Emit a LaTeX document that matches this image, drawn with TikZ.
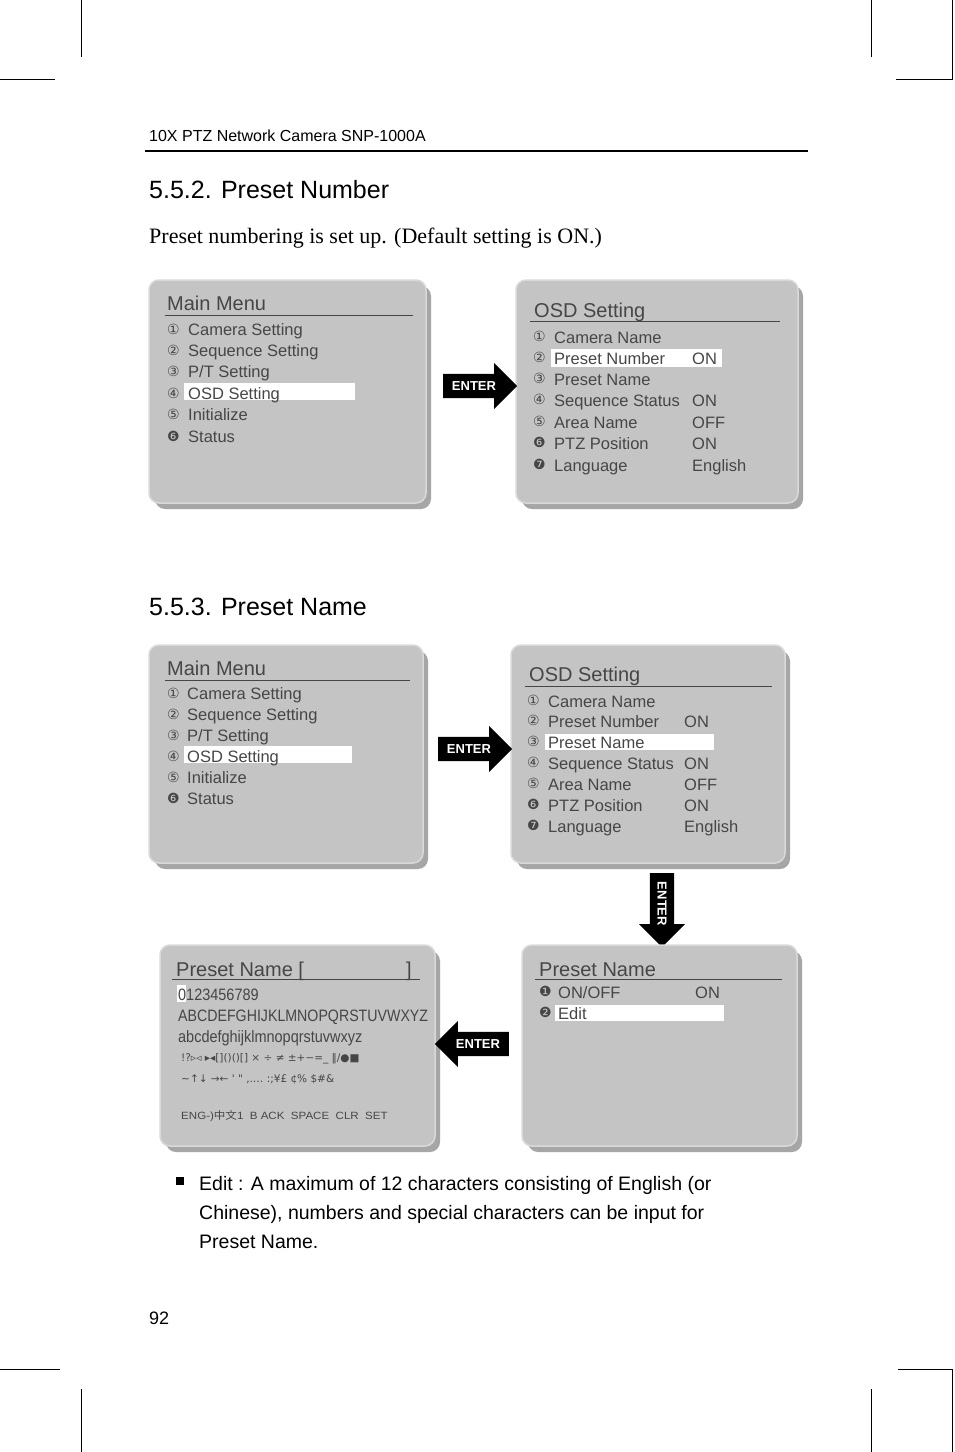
\documentclass[tikz,border=0pt]{standalone}
\usepackage{fontspec}
\setmainfont{Liberation Serif}
\setsansfont{Liberation Sans}
\newfontfamily\djv{DejaVu Sans}
\newfontfamily\cjk{Noto Sans CJK SC}
\usetikzlibrary{positioning,shapes.arrows}
\definecolor{panelgray}{RGB}{196,196,196}
\definecolor{menutext}{RGB}{70,70,70}
\tikzset{
  panel/.style={fill=panelgray, draw=white!85!black, line width=1.5pt, rounded corners=10pt},
  shadow/.style={fill=black!35, rounded corners=10pt},
  mtitle/.style={anchor=base west, inner sep=0pt, text=menutext, font=\sffamily\fontsize{20}{22}\selectfont},
  mitem/.style={anchor=base west, inner sep=0pt, text=menutext, font=\sffamily\fontsize{16.5}{18}\selectfont},
  mnum/.style={anchor=base west, inner sep=0pt, text=menutext, font=\djv\fontsize{14}{15}\selectfont},
  chars/.style={anchor=base west, inner sep=0pt, text=menutext, font=\sffamily\fontsize{16.5}{18}\selectfont, xscale=0.86},
  hibar/.style={fill=white, draw=none},
  enterarrow/.style={single arrow, fill=black, text=white, inner sep=2pt,
    single arrow head extend=6pt, minimum height=74pt, minimum width=46pt,
    font=\sffamily\bfseries\fontsize{13}{14}\selectfont},
  cropmark/.style={line width=0.8pt, black},
}
\begin{document}
\begin{tikzpicture}[x=1pt,y=-1pt]
\useasboundingbox[fill=white] (0,0) rectangle (954,1452);

% crop marks
\draw[cropmark] (81,0) -- (81,57);
\draw[cropmark] (0,79) -- (55,79);
\draw[cropmark] (871,0) -- (871,57);
\draw[cropmark] (896,79) -- (952,79) -- (952,0);
\draw[cropmark] (0,1369) -- (60,1369);
\draw[cropmark] (81,1389) -- (81,1452);
\draw[cropmark] (898,1369) -- (952,1369) -- (952,1452);
\draw[cropmark] (871,1389) -- (871,1452);

% header
\node[anchor=base west, inner sep=0pt, font=\sffamily\fontsize{16}{18}\selectfont] (head) at (149,141) {10X PTZ Network Camera SNP-1000A};
\draw[line width=1.6pt] (145,151) -- (808,151);

\node[anchor=base west, inner sep=0pt, font=\sffamily\fontsize{25}{28}\selectfont] (sec1) at (149,198) {5.5.2. Preset Number};
\node[anchor=base west, inner sep=0pt, font=\fontsize{22}{24}\selectfont] (intro) at (149,243) {Preset numbering is set up. (Default setting is ON.)};
\node[anchor=base west, inner sep=0pt, font=\sffamily\fontsize{25}{28}\selectfont] (sec2) at (149,615) {5.5.3. Preset Name};

% ---- panel 1: main menu
\fill[shadow] (155,286) rectangle (431,509);
\draw[panel] (149,280) rectangle (426,503);
\fill[hibar] (184,383) rectangle (355,400);
\node[mtitle] (mm1) at (167,310) {Main Menu};
\draw[menutext, line width=1pt] (165,315) -- (413,315);
\node[mnum] (n11) at (167,334) {①}; \node[mitem] (i11) at (188,335) {Camera Setting};
\node[mnum] (n12) at (167,355) {②}; \node[mitem] (i12) at (188,356) {Sequence Setting};
\node[mnum] (n13) at (167,376) {③}; \node[mitem] (i13) at (188,377) {P/T Setting};
\node[mnum] (n14) at (167,398) {④}; \node[mitem] (i14) at (188,399) {OSD Setting};
\node[mnum] (n15) at (167,419) {⑤}; \node[mitem] (i15) at (188,420) {Initialize};
\node[mnum] (n16) at (167,441) {❻}; \node[mitem] (i16) at (188,442) {Status};

% ---- panel 2: osd setting
\fill[shadow] (522,286) rectangle (803,509);
\draw[panel] (516,280) rectangle (798,503);
\fill[hibar] (551,349) rectangle (722,367);
\node[mtitle] (os1) at (534,317) {OSD Setting};
\draw[menutext, line width=1pt] (530,321) -- (780,321);
\node[mnum] (n21) at (533,341) {①}; \node[mitem] (i21) at (554,343) {Camera Name};
\node[mnum] (n22) at (533,362) {②}; \node[mitem] (i22) at (554,364) {Preset Number}; \node[mitem] (v22) at (692,364) {ON};
\node[mnum] (n23) at (533,383) {③}; \node[mitem] (i23) at (554,385) {Preset Name};
\node[mnum] (n24) at (533,404) {④}; \node[mitem] (i24) at (554,406) {Sequence Status}; \node[mitem] (v24) at (692,406) {ON};
\node[mnum] (n25) at (533,426) {⑤}; \node[mitem] (i25) at (554,428) {Area Name}; \node[mitem] (v25) at (692,428) {OFF};
\node[mnum] (n26) at (533,447) {❻}; \node[mitem] (i26) at (554,449) {PTZ Position}; \node[mitem] (v26) at (692,449) {ON};
\node[mnum] (n27) at (533,469) {❼}; \node[mitem] (i27) at (554,471) {Language}; \node[mitem] (v27) at (692,471) {English};

\node[enterarrow] (ar1) at (474,386) {ENTER};

% ---- panel 3: main menu
\fill[shadow] (155,651) rectangle (428,869);
\draw[panel] (149,645) rectangle (423,863);
\fill[hibar] (184,746) rectangle (352,763);
\node[mtitle] (mm3) at (167,675) {Main Menu};
\draw[menutext, line width=1pt] (165,680) -- (410,680);
\node[mnum] (n31) at (167,698) {①}; \node[mitem] (i31) at (187,699) {Camera Setting};
\node[mnum] (n32) at (167,719) {②}; \node[mitem] (i32) at (187,720) {Sequence Setting};
\node[mnum] (n33) at (167,740) {③}; \node[mitem] (i33) at (187,741) {P/T Setting};
\node[mnum] (n34) at (167,761) {④}; \node[mitem] (i34) at (187,762) {OSD Setting};
\node[mnum] (n35) at (167,782) {⑤}; \node[mitem] (i35) at (187,783) {Initialize};
\node[mnum] (n36) at (167,803) {❻}; \node[mitem] (i36) at (187,804) {Status};

% ---- panel 4: osd setting
\fill[shadow] (517,651) rectangle (790,869);
\draw[panel] (511,645) rectangle (785,863);
\fill[hibar] (545,734) rectangle (714,750);
\node[mtitle] (os4) at (529,681) {OSD Setting};
\draw[menutext, line width=1pt] (525,686) -- (772,686);
\node[mnum] (n41) at (527,705) {①}; \node[mitem] (i41) at (548,707) {Camera Name};
\node[mnum] (n42) at (527,725) {②}; \node[mitem] (i42) at (548,727) {Preset Number}; \node[mitem] (v42) at (684,727) {ON};
\node[mnum] (n43) at (527,746) {③}; \node[mitem] (i43) at (548,748) {Preset Name};
\node[mnum] (n44) at (527,767) {④}; \node[mitem] (i44) at (548,769) {Sequence Status}; \node[mitem] (v44) at (684,769) {ON};
\node[mnum] (n45) at (527,788) {⑤}; \node[mitem] (i45) at (548,790) {Area Name}; \node[mitem] (v45) at (684,790) {OFF};
\node[mnum] (n46) at (527,809) {❻}; \node[mitem] (i46) at (548,811) {PTZ Position}; \node[mitem] (v46) at (684,811) {ON};
\node[mnum] (n47) at (527,830) {❼}; \node[mitem] (i47) at (548,832) {Language}; \node[mitem] (v47) at (684,832) {English};

\node[enterarrow] (ar2) at (469,749) {ENTER};
\node[enterarrow, rotate=-90] (ar3) at (662,904) {ENTER};

% ---- panel 5: character table
\fill[shadow] (166,951) rectangle (440,1152);
\draw[panel] (160,945) rectangle (435,1146);
\fill[hibar] (177,985) rectangle (186,1002);
\node[mtitle] (pn5) at (176,976) {Preset Name [};
\node[mtitle] (br5) at (406,976) {]};
\draw[menutext, line width=1pt] (172,979) -- (420,979);
\node[chars, xscale=1.02] (c51) at (178,1000) {0123456789};
\node[chars] (c52) at (178,1021) {ABCDEFGHIJKLMNOPQRSTUVWXYZ};
\node[chars, xscale=1.02] (c53) at (178,1042) {abcdefghijklmnopqrstuvwxyz};
\node[mitem, font=\djv\fontsize{10.5}{11}\selectfont] (c54) at (181,1061) {!?▹◃ ▸◂[]()()[] × ÷ ≠ ±+−=\_ ‖/●■};
\node[mitem, font=\djv\fontsize{10.5}{11}\selectfont] (c55) at (181,1082) {∼↑↓ →← ' " ,.… :;¥£ ¢\% \$\#\&};
\node[mitem, font=\sffamily\fontsize{10.5}{11}\selectfont, xscale=1.1] (c56) at (181,1119) {ENG-)\cjk 中文\sffamily 1\ \ B ACK\ \ SPACE\ \ CLR\ \ SET};

% ---- panel 6: preset name edit
\fill[shadow] (528,951) rectangle (802,1152);
\draw[panel] (522,945) rectangle (797,1146);
\fill[hibar] (555,1005) rectangle (724,1021);
\node[mtitle] (pn6) at (539,976) {Preset Name};
\draw[menutext, line width=1pt] (535,979) -- (782,979);
\node[mnum] (n61) at (539,996) {❶}; \node[mitem] (i61) at (558,998) {ON/OFF}; \node[mitem] (v61) at (695,998) {ON};
\node[mnum] (n62) at (539,1017) {❷}; \node[mitem] (i62) at (558,1019) {Edit};

\node[enterarrow, shape border rotate=180] (ar4) at (478,1044) {ENTER};

% note
\fill (176,1177) rectangle (184,1185);
\node[anchor=base west, inner sep=0pt, font=\sffamily\fontsize{19.5}{20}\selectfont] (note1) at (199,1190) {Edit : A maximum of 12 characters consisting of English (or};
\node[anchor=base west, inner sep=0pt, font=\sffamily\fontsize{19.5}{20}\selectfont] (note2) at (199,1219) {Chinese), numbers and special characters can be input for};
\node[anchor=base west, inner sep=0pt, font=\sffamily\fontsize{19.5}{20}\selectfont] (note3) at (199,1248) {Preset Name.};
\node[anchor=base west, inner sep=0pt, font=\sffamily\fontsize{18}{20}\selectfont] (page) at (149,1324) {92};
\end{tikzpicture}
\end{document}
